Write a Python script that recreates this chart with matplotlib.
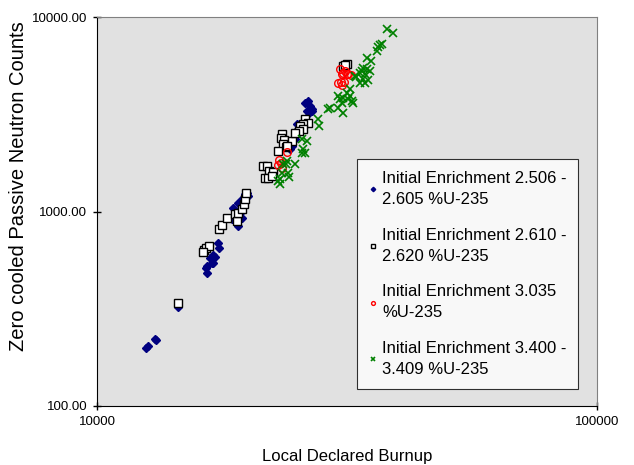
import numpy as np
import matplotlib
matplotlib.use("Agg")
import matplotlib.pyplot as plt

plt.rcParams['font.family'] = ['Liberation Sans', 'DejaVu Sans']

# Initial enrichment 2.506 - 2.605 %U-235
burnup_a = [12530, 12647, 13062, 13122, 14521, 16596, 16520, 16596, 16982, 17061,
            16827, 17219, 17061, 17539, 17458, 19143, 18621, 19498, 19143, 19498,
            18707, 19143, 19320, 19498, 19770, 19953, 20045, 26424, 26669, 26915,
            26303, 26546, 26062, 26915, 25119, 25235, 25119, 24889, 24547, 24322]
counts_a = [198, 203, 221, 218, 322, 481, 510, 522, 541, 541,
            574, 581, 595, 646, 693, 838, 921, 932, 977, 1012,
            1048, 1112, 1112, 1166, 1237, 1252, 1208, 3709, 3496, 3375,
            3296, 3219, 3622, 3296, 2827, 2665, 2512, 2368, 2180, 2105]

# Initial enrichment 2.610 - 2.620 %U-235
burnup_b = [14521, 16368, 16520, 16749, 16293, 17539, 17783, 18197, 18880, 19055,
            19143, 19498, 19679, 19770, 19861, 21478, 21878, 22080, 22491, 21677,
            21979, 22387, 26062, 26424, 25823, 25468, 25823, 25351, 23442, 23335,
            23659, 23550, 23878, 24547, 24889, 23014, 23988, 31623, 31046, 31333]
counts_b = [338, 631, 646, 662, 616, 818, 858, 932, 977, 899,
            988, 1036, 1099, 1166, 1252, 1722, 1722, 1623, 1604, 1494,
            1494, 1530, 2999, 2860, 2827, 2761, 2665, 2603, 2512, 2397,
            2341, 2232, 2154, 2313, 2542, 2056, 2180, 5741, 5607, 5674]

# Initial enrichment 3.035 %U-235
burnup_c = [23988, 23121, 23014, 23442, 23335, 30620, 31046, 31623, 32211, 30903,
            30339, 30761, 31189, 30903, 31333, 31769]
counts_c = [2032, 1848, 1742, 1682, 1784, 5412, 5162, 5102, 5042, 5102,
            4586, 4642, 4642, 4480, 5286, 5102]

# Initial enrichment 3.400 - 3.409 %U-235
burnup_d = [38019, 39084, 37154, 36813, 36475, 36308, 34674, 35318, 34041, 34674,
            35156, 33574, 34356, 33884, 34041, 34834, 33574, 34356, 32961, 32810,
            32063, 31623, 32063, 31046, 31769, 32359, 30620, 30339, 30903, 32509,
            28973, 30339, 31046, 29242, 27669, 27797, 25704, 26303, 25823, 25704,
            26062, 24889, 23988, 23550, 24099, 24210, 23014, 23227, 23878, 23442,
            23227]
counts_d = [8679, 8279, 7270, 7184, 7017, 6693, 6163, 5948, 5477, 5412,
            5286, 5162, 5102, 5286, 4810, 4753, 4586, 4586, 4924, 4983,
            4273, 4076, 3934, 3842, 3797, 3709, 3797, 3934, 3622, 3622,
            3375, 3414, 3219, 3414, 2999, 2761, 2368, 2313, 2105, 2008,
            2008, 1763, 1826, 1763, 1585, 1512, 1442, 1392, 1763, 1585,
            1476]

labels = ['Initial Enrichment 2.506 -\n2.605 %U-235',
          'Initial Enrichment 2.610 -\n2.620 %U-235',
          'Initial Enrichment 3.035\n%U-235',
          'Initial Enrichment 3.400 -\n3.409 %U-235']

fig = plt.figure(figsize=(6.34, 4.65), dpi=100)
ax = fig.add_axes([0.153, 0.127, 0.789, 0.836])
ax.set_facecolor('#e1e1e1')

ax.plot(burnup_a, counts_a, linestyle='none', marker='D', ms=4.5, color='#000080',
        mec='#000080', label=labels[0])
ax.plot(burnup_b, counts_b, linestyle='none', marker='s', ms=5.5, mfc='white',
        mec='black', mew=1.0, label=labels[1])
ax.plot(burnup_c, counts_c, linestyle='none', marker='o', ms=5.5, mfc='none',
        mec='#ff0000', mew=1.0, label=labels[2])
ax.plot(burnup_d, counts_d, linestyle='none', marker='x', ms=5.5, color='#008000',
        mew=1.2, label=labels[3])

ax.set_xscale('log')
ax.set_yscale('log')
ax.set_xlim(10000, 100000)
ax.set_ylim(100, 10000)
ax.set_xticks([10000, 100000])
ax.set_xticklabels(['10000', '100000'])
ax.set_yticks([100, 1000, 10000])
ax.set_yticklabels(['100.00', '1000.00', '10000.00'])
ax.minorticks_off()
ax.tick_params(direction='inout', length=6, width=1, labelsize=9.5, pad=4)

for side in ['top', 'right']:
    ax.spines[side].set_color('#808080')
for side in ['left', 'bottom']:
    ax.spines[side].set_color('black')

ax.set_xlabel('Local Declared Burnup', fontsize=12, labelpad=15)
ax.set_ylabel('Zero cooled Passive Neutron Counts', fontsize=14.5)
ax.yaxis.set_label_coords(-0.138, 0.566)

leg = ax.legend(loc='upper left', bbox_to_anchor=(0.563, 0.658), bbox_transform=fig.transFigure,
                fontsize=12, frameon=True, fancybox=False, markerscale=0.5,
                handlelength=0.5, handletextpad=0.3, labelspacing=1.25,
                borderpad=0.7, borderaxespad=0)
for t in leg.get_texts():
    t.set_linespacing(1.5)
leg.get_frame().set_edgecolor('black')
leg.get_frame().set_linewidth(0.8)

fig.savefig('out.png', dpi=100)
